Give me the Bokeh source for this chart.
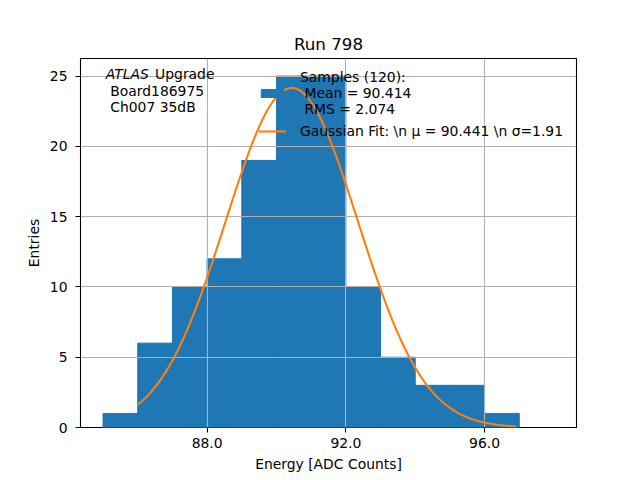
import numpy as np
from bokeh.plotting import figure
from bokeh.models import (Range1d, FixedTicker, Label, Legend, LegendItem,
                          NumeralTickFormatter)
from bokeh.embed import file_html
from bokeh.resources import INLINE

# ---- data ----
bin_edges = [85, 86, 87, 88, 89, 90, 91, 92, 93, 94, 95, 96, 97, 98]
counts = [1, 6, 10, 12, 19, 25, 25, 10, 5, 3, 3, 1, 0]
n_samples = 120
mean_val = 90.414
rms_val = 2.074
fit_mu = 90.441
fit_sigma = 1.91
fit_amp = 24.15
fit_xmin = 86.0
fit_xmax = 96.9
x_ticks = [88, 92, 96]
y_ticks = [0, 5, 10, 15, 20, 25]

FONT = "DejaVu Sans"
BLUE = "#1f77b4"
ORANGE = "#ff7f0e"
NB = "\u00a0"

p = figure(frame_width=496, frame_height=369, output_backend="svg",
           toolbar_location=None, min_border_left=80, min_border_right=56,
           min_border_top=58, title="Run 798",
           x_range=Range1d(84.35, 98.65), y_range=Range1d(0, 26.25))
p.title.align = "center"
p.title.text_font = FONT
p.title.text_font_size = "16.7px"
p.title.text_font_style = "normal"
p.title.text_color = "black"
p.title.offset = 0
p.title.standoff = 9

p.outline_line_color = "black"
p.outline_line_width = 1.1
p.background_fill_color = "white"
p.border_fill_color = "white"

edge_alpha = [1.0 if c > 0 else 0.0 for c in counts]
hist = p.quad(left=bin_edges[:-1], right=bin_edges[1:], bottom=0, top=counts,
              fill_color=BLUE, line_color=BLUE, line_width=1,
              line_alpha=edge_alpha)
hist.level = "image"

xs = np.linspace(fit_xmin, fit_xmax, 200)
ys = fit_amp * np.exp(-(xs - fit_mu) ** 2 / (2 * fit_sigma ** 2))
fit = p.line(xs, ys, line_color=ORANGE, line_width=2.1)

for ax in (p.xaxis[0], p.yaxis[0]):
    ax.major_label_text_font = FONT
    ax.major_label_text_font_size = "13.9px"
    ax.major_label_text_color = "black"
    ax.axis_label_text_font = FONT
    ax.axis_label_text_font_size = "13.9px"
    ax.axis_label_text_font_style = "normal"
    ax.axis_label_text_color = "black"
    ax.minor_tick_line_color = None
    ax.major_tick_out = 5
    ax.major_tick_in = 0
    ax.major_tick_line_color = "black"
    ax.axis_line_color = None
    ax.major_tick_line_width = 1.1

p.yaxis[0].major_label_standoff = 8
p.xaxis[0].ticker = FixedTicker(ticks=x_ticks)
p.xaxis[0].formatter = NumeralTickFormatter(format="0.0")
p.yaxis[0].ticker = FixedTicker(ticks=y_ticks)
p.xaxis.axis_label = "Energy [ADC Counts]"
p.yaxis.axis_label = "Entries"

for g in (p.xgrid[0], p.ygrid[0]):
    g.grid_line_color = "#b0b0b0"
    g.grid_line_width = 1.1
    g.level = "underlay"
p.xgrid[0].ticker = FixedTicker(ticks=x_ticks)
p.ygrid[0].ticker = FixedTicker(ticks=y_ticks)

legend = Legend(items=[
    LegendItem(label=f"Samples ({n_samples}):\n{NB}Mean = {mean_val:.3f}\n{NB}RMS = {rms_val:.3f}",
               renderers=[hist]),
    LegendItem(label=f"Gaussian Fit: \\n μ = {fit_mu:.3f} \\n σ={fit_sigma:.2f}",
               renderers=[fit]),
], location=(178, 288))
legend.label_text_font = FONT
legend.label_text_font_size = "13.9px"
legend.label_text_color = "black"
legend.border_line_alpha = 0
legend.background_fill_alpha = 0
legend.padding = 0
legend.margin = 0
legend.glyph_width = 28
legend.glyph_height = 10
legend.label_standoff = 14
legend.spacing = 6
legend.label_text_line_height = 1.25
p.add_layout(legend)

# annotation text (top-left)
common = dict(text_font=FONT, text_font_size="13.9px", text_baseline="middle",
              text_color="black")
p.add_layout(Label(x=85.08, y=25.14, text="ATLAS", text_font_style="italic", **common))
p.add_layout(Label(x=86.5, y=25.14, text="Upgrade", **common))
p.add_layout(Label(x=85.08, y=23.95, text=NB + "Board186975", **common))
p.add_layout(Label(x=85.08, y=22.78, text=NB + "Ch007 35dB", **common))

open("out.html", "w").write(file_html(p, INLINE))
